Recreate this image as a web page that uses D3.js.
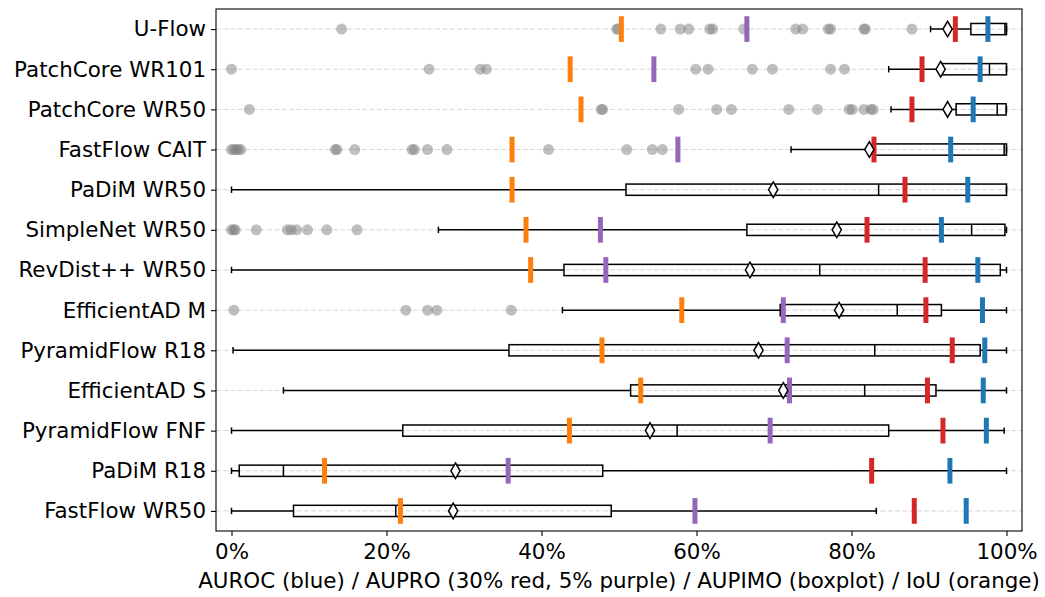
<!DOCTYPE html>
<html>
<head>
<meta charset="utf-8">
<script src="https://cdn.jsdelivr.net/npm/d3@7"></script>
<style>
  html, body { margin: 0; padding: 0; background: #fff; }
  svg { display: block; font-family: "DejaVu Sans", sans-serif; }
</style>
</head>
<body>
<svg id="chart" width="1045" height="597"></svg>
<script>
// Models, top to bottom
const models = [
  "U-Flow", "PatchCore WR101", "PatchCore WR50", "FastFlow CAIT", "PaDiM WR50",
  "SimpleNet WR50", "RevDist++ WR50", "EfficientAD M", "PyramidFlow R18",
  "EfficientAD S", "PyramidFlow FNF", "PaDiM R18", "FastFlow WR50"
];

// Dataset-level metrics per model
const auroc   = [0.976, 0.966, 0.957, 0.928, 0.950, 0.916, 0.963, 0.969, 0.972, 0.970, 0.974, 0.927, 0.948];
const aupro30 = [0.934, 0.891, 0.878, 0.829, 0.869, 0.820, 0.895, 0.896, 0.930, 0.898, 0.918, 0.826, 0.881];
const aupro5  = [0.665, 0.545, null,  0.576, null,  0.476, 0.483, 0.712, 0.717, 0.720, 0.695, 0.357, 0.598];
const iou     = [0.503, 0.437, 0.451, 0.362, 0.362, 0.380, 0.386, 0.581, 0.478, 0.528, 0.436, 0.120, 0.218];

// AUPIMO distribution summaries (per-image scores)
const whiskerLow  = [0.902, 0.848, 0.851, 0.722, 0.000, 0.267, 0.000, 0.427, 0.002, 0.067, 0.000, 0.000, 0.000];
const q1          = [0.954, 0.916, 0.935, 0.830, 0.509, 0.665, 0.429, 0.708, 0.358, 0.515, 0.221, 0.010, 0.080];
const median      = [0.998, 0.978, 0.988, 0.997, 0.835, 0.955, 0.759, 0.859, 0.830, 0.817, 0.575, 0.067, 0.212];
const q3          = [1.000, 1.000, 0.9995, 1.000, 1.000, 0.998, 0.992, 0.916, 0.966, 0.909, 0.848, 0.479, 0.490];
const whiskerHigh = [1.000, 1.000, 1.000, 1.000, 1.000, 1.000, 1.000, 1.000, 1.000, 1.000, 0.997, 1.000, 0.832];
const meanScore   = [0.924, 0.915, 0.924, 0.823, 0.699, 0.781, 0.669, 0.784, 0.680, 0.712, 0.540, 0.289, 0.286];

// Per-image outliers below the lower whisker
const outliers = [
  [0.142, 0.497, 0.499, 0.554, 0.579, 0.590, 0.617, 0.621, 0.661, 0.728, 0.737, 0.770, 0.773, 0.816, 0.818, 0.878],
  [0.000, 0.255, 0.321, 0.329, 0.599, 0.615, 0.672, 0.698, 0.773, 0.791],
  [0.023, 0.477, 0.479, 0.577, 0.626, 0.645, 0.719, 0.756, 0.797, 0.801, 0.816, 0.825, 0.828],
  [0.000, 0.003, 0.006, 0.009, 0.012, 0.134, 0.136, 0.159, 0.233, 0.236, 0.253, 0.278, 0.409, 0.510, 0.543, 0.556],
  [],
  [0.000, 0.003, 0.005, 0.032, 0.072, 0.077, 0.084, 0.098, 0.123, 0.162],
  [],
  [0.003, 0.225, 0.253, 0.265, 0.361],
  [], [], [], [], []
];

const xTicks = [0, 0.2, 0.4, 0.6, 0.8, 1.0];

const svg = d3.select("#chart");
const margin = { left: 216, right: 1045 - 1022, top: 9, bottom: 597 - 531 };
const W = 1045, H = 597;
const innerW = W - margin.left - margin.right;
const innerH = H - margin.top - margin.bottom;
const fontSize = 21.4;

const x = d3.scaleLinear().domain([-0.02, 1.02]).range([margin.left, margin.left + innerW]);
const y = d3.scalePoint().domain(models).range([margin.top, margin.top + innerH]).padding(0.5);
const rowStep = y.step();
const boxH = rowStep * 0.28;
const tickH = rowStep * 0.64;

const colors = { auroc: "#1f77b4", aupro30: "#d62728", aupro5: "#9467bd", iou: "#ff7f0e" };

// Horizontal grid lines per row
svg.append("g").selectAll("line").data(models).join("line")
  .attr("x1", margin.left).attr("x2", margin.left + innerW)
  .attr("y1", d => y(d)).attr("y2", d => y(d))
  .attr("stroke", "#b0b0b0").attr("stroke-opacity", 0.5)
  .attr("stroke-width", 1).attr("stroke-dasharray", "5.1,2.2");

const rows = models.map((m, i) => ({
  m, lo: whiskerLow[i], q1: q1[i], med: median[i], q3: q3[i], hi: whiskerHigh[i],
  mean: meanScore[i], out: outliers[i]
}));

const gBox = svg.append("g").attr("stroke", "#000").attr("fill", "none").attr("stroke-width", 1.5);

rows.forEach(r => {
  const cy = y(r.m);
  const g = gBox.append("g");
  // whiskers
  g.append("line").attr("x1", x(r.lo)).attr("x2", x(r.q1)).attr("y1", cy).attr("y2", cy);
  g.append("line").attr("x1", x(r.q3)).attr("x2", x(r.hi)).attr("y1", cy).attr("y2", cy);
  // caps
  [r.lo, r.hi].forEach(v => g.append("line")
    .attr("x1", x(v)).attr("x2", x(v)).attr("y1", cy - 3.2).attr("y2", cy + 3.2));
  // box
  g.append("rect").attr("x", x(r.q1)).attr("y", cy - boxH / 2)
    .attr("width", Math.max(0, x(r.q3) - x(r.q1))).attr("height", boxH);
  // median
  g.append("line").attr("x1", x(r.med)).attr("x2", x(r.med))
    .attr("y1", cy - boxH / 2).attr("y2", cy + boxH / 2);
});

// Outlier points
const flierData = rows.flatMap(r => r.out.map(v => ({ m: r.m, v })));
svg.append("g").selectAll("circle").data(flierData).join("circle")
  .attr("cx", d => x(d.v)).attr("cy", d => y(d.m)).attr("r", 5.5)
  .attr("fill", "#808080").attr("fill-opacity", 0.5);

// Metric ticks
const metricSeries = [
  { key: "auroc", vals: auroc },
  { key: "aupro30", vals: aupro30 },
  { key: "aupro5", vals: aupro5 },
  { key: "iou", vals: iou }
];
metricSeries.forEach(s => {
  const data = models.map((m, i) => ({ m, v: s.vals[i] })).filter(d => d.v !== null);
  svg.append("g").selectAll("rect").data(data).join("rect")
    .attr("x", d => x(d.v) - 2.5).attr("y", d => y(d.m) - tickH / 2)
    .attr("width", 5).attr("height", tickH)
    .attr("fill", colors[s.key]);
});

// Mean markers (thin diamonds)
svg.append("g").selectAll("path").data(rows).join("path")
  .attr("d", d => {
    const cx = x(d.mean), cy = y(d.m), hw = 4.6, hh = 7.8;
    return `M${cx},${cy - hh}L${cx + hw},${cy}L${cx},${cy + hh}L${cx - hw},${cy}Z`;
  })
  .attr("fill", "#fff").attr("stroke", "#000").attr("stroke-width", 1.5);

// Frame
svg.append("rect").attr("x", margin.left).attr("y", margin.top)
  .attr("width", innerW).attr("height", innerH)
  .attr("fill", "none").attr("stroke", "#000").attr("stroke-width", 1.1);

// X axis
const xAxis = d3.axisBottom(x).tickValues(xTicks).tickFormat(d3.format(".0%")).tickSize(5).tickPadding(8);
const gx = svg.append("g").attr("transform", `translate(0,${margin.top + innerH})`).call(xAxis);
gx.select(".domain").remove();
gx.selectAll("line").attr("stroke", "#000").attr("stroke-width", 1.1);
gx.selectAll("text").attr("font-size", fontSize).attr("fill", "#000").attr("font-family", "DejaVu Sans");

// Y axis
const yAxis = d3.axisLeft(y).tickSize(5).tickPadding(5);
const gy = svg.append("g").attr("transform", `translate(${margin.left},0)`).call(yAxis);
gy.select(".domain").remove();
gy.selectAll("line").attr("stroke", "#000").attr("stroke-width", 1.1);
gy.selectAll("text").attr("font-size", fontSize).attr("fill", "#000").attr("font-family", "DejaVu Sans");

// X axis title
svg.append("text")
  .attr("x", margin.left + innerW / 2).attr("y", 588)
  .attr("text-anchor", "middle").attr("font-size", fontSize).attr("fill", "#000")
  .text("AUROC (blue) / AUPRO (30% red, 5% purple) / AUPIMO (boxplot) / IoU (orange)");
</script>
</body>
</html>
